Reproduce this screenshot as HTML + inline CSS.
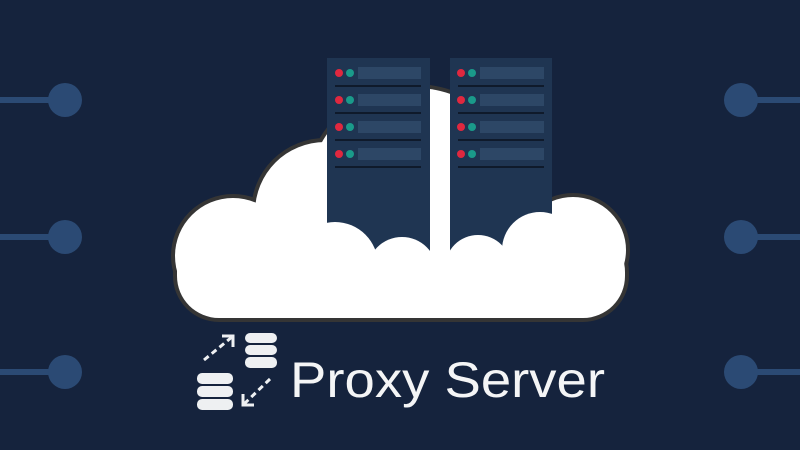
<!DOCTYPE html>
<html><head><meta charset="utf-8"><style>
html,body{margin:0;padding:0;background:#15233d;}
svg{display:block}
</style></head><body>
<svg width="800" height="450" viewBox="0 0 800 450" xmlns="http://www.w3.org/2000/svg">
<rect width="800" height="450" fill="#15233d"/>
<g fill="#2b4a74" stroke="#2b4a74">
  <line x1="0" y1="100" x2="60" y2="100" stroke-width="6"/>
  <line x1="0" y1="237" x2="60" y2="237" stroke-width="6"/>
  <line x1="0" y1="372" x2="60" y2="372" stroke-width="6"/>
  <circle cx="65" cy="100" r="17" stroke="none"/>
  <circle cx="65" cy="237" r="17" stroke="none"/>
  <circle cx="65" cy="372" r="17" stroke="none"/>
  <line x1="740" y1="100" x2="800" y2="100" stroke-width="6"/>
  <line x1="740" y1="237" x2="800" y2="237" stroke-width="6"/>
  <line x1="740" y1="372" x2="800" y2="372" stroke-width="6"/>
  <circle cx="741" cy="100" r="17" stroke="none"/>
  <circle cx="741" cy="237" r="17" stroke="none"/>
  <circle cx="741" cy="372" r="17" stroke="none"/>
</g>
<g fill="#333" stroke="#353535" stroke-width="8">
  <rect x="177" y="230" width="448" height="88" rx="42"/>
  <circle cx="233" cy="256" r="58"/>
  <circle cx="325" cy="212" r="70"/>
  <circle cx="415" cy="195" r="107"/>
  <circle cx="573" cy="250" r="53"/>
</g>
<g fill="#fff">
  <rect x="177" y="230" width="448" height="88" rx="42"/>
  <circle cx="233" cy="256" r="58"/>
  <circle cx="325" cy="212" r="70"/>
  <circle cx="415" cy="195" r="107"/>
  <circle cx="573" cy="250" r="53"/>
</g>
<g>
  <rect x="327" y="58" width="103" height="200" fill="#1f3552"/>
  <rect x="450" y="58" width="102" height="156" fill="#1f3552"/>
  <rect x="450" y="200" width="102" height="60" fill="#1f3552"/>
</g>
<g fill="#2d4766">
  <rect x="358" y="67" width="63" height="12"/><rect x="358" y="94" width="63" height="12"/>
  <rect x="358" y="121" width="63" height="12"/><rect x="358" y="148" width="63" height="12"/>
  <rect x="480" y="67" width="64" height="12"/><rect x="480" y="94" width="64" height="12"/>
  <rect x="480" y="121" width="64" height="12"/><rect x="480" y="148" width="64" height="12"/>
</g>
<g fill="#0f1a2b">
  <rect x="335" y="85" width="86" height="2"/><rect x="335" y="112" width="86" height="2"/>
  <rect x="335" y="139" width="86" height="2"/><rect x="335" y="166" width="86" height="2"/>
  <rect x="458" y="85" width="86" height="2"/><rect x="458" y="112" width="86" height="2"/>
  <rect x="458" y="139" width="86" height="2"/><rect x="458" y="166" width="86" height="2"/>
</g>
<g fill="#e0283f">
  <circle cx="339" cy="73" r="4"/><circle cx="339" cy="100" r="4"/><circle cx="339" cy="127" r="4"/><circle cx="339" cy="154" r="4"/>
  <circle cx="461" cy="73" r="4"/><circle cx="461" cy="100" r="4"/><circle cx="461" cy="127" r="4"/><circle cx="461" cy="154" r="4"/>
</g>
<g fill="#1a9a8a">
  <circle cx="350" cy="73" r="4"/><circle cx="350" cy="100" r="4"/><circle cx="350" cy="127" r="4"/><circle cx="350" cy="154" r="4"/>
  <circle cx="472" cy="73" r="4"/><circle cx="472" cy="100" r="4"/><circle cx="472" cy="127" r="4"/><circle cx="472" cy="154" r="4"/>
</g>
<g fill="#fff">
  <circle cx="335" cy="265" r="43"/>
  <circle cx="402" cy="272" r="35"/>
  <circle cx="478" cy="268" r="33"/>
  <circle cx="540" cy="250" r="38"/>
  <rect x="552" y="214" width="10" height="60"/>
  <rect x="300" y="280" width="280" height="30"/>
</g>
<g fill="#eef0f2">
  <rect x="245" y="333" width="32" height="10" rx="5"/>
  <rect x="245" y="345" width="32" height="10" rx="5"/>
  <rect x="245" y="357" width="32" height="11" rx="5"/>
  <rect x="197" y="373" width="36" height="11" rx="5"/>
  <rect x="197" y="386" width="36" height="11" rx="5"/>
  <rect x="197" y="399" width="36" height="11" rx="5"/>
</g>
<g stroke="#eef0f2" stroke-width="3" fill="none">
  <line x1="204" y1="360" x2="232" y2="337" stroke-dasharray="6 4"/>
  <polyline points="222,336 233,336 233,347"/>
  <line x1="270" y1="379" x2="244" y2="404" stroke-dasharray="6 4"/>
  <polyline points="243,394 243,405 254,405"/>
</g>
<text x="290" y="397" font-family="Liberation Sans, sans-serif" font-size="50" fill="#f4f5f6" textLength="315" lengthAdjust="spacingAndGlyphs">Proxy Server</text>
</svg>
</body></html>
